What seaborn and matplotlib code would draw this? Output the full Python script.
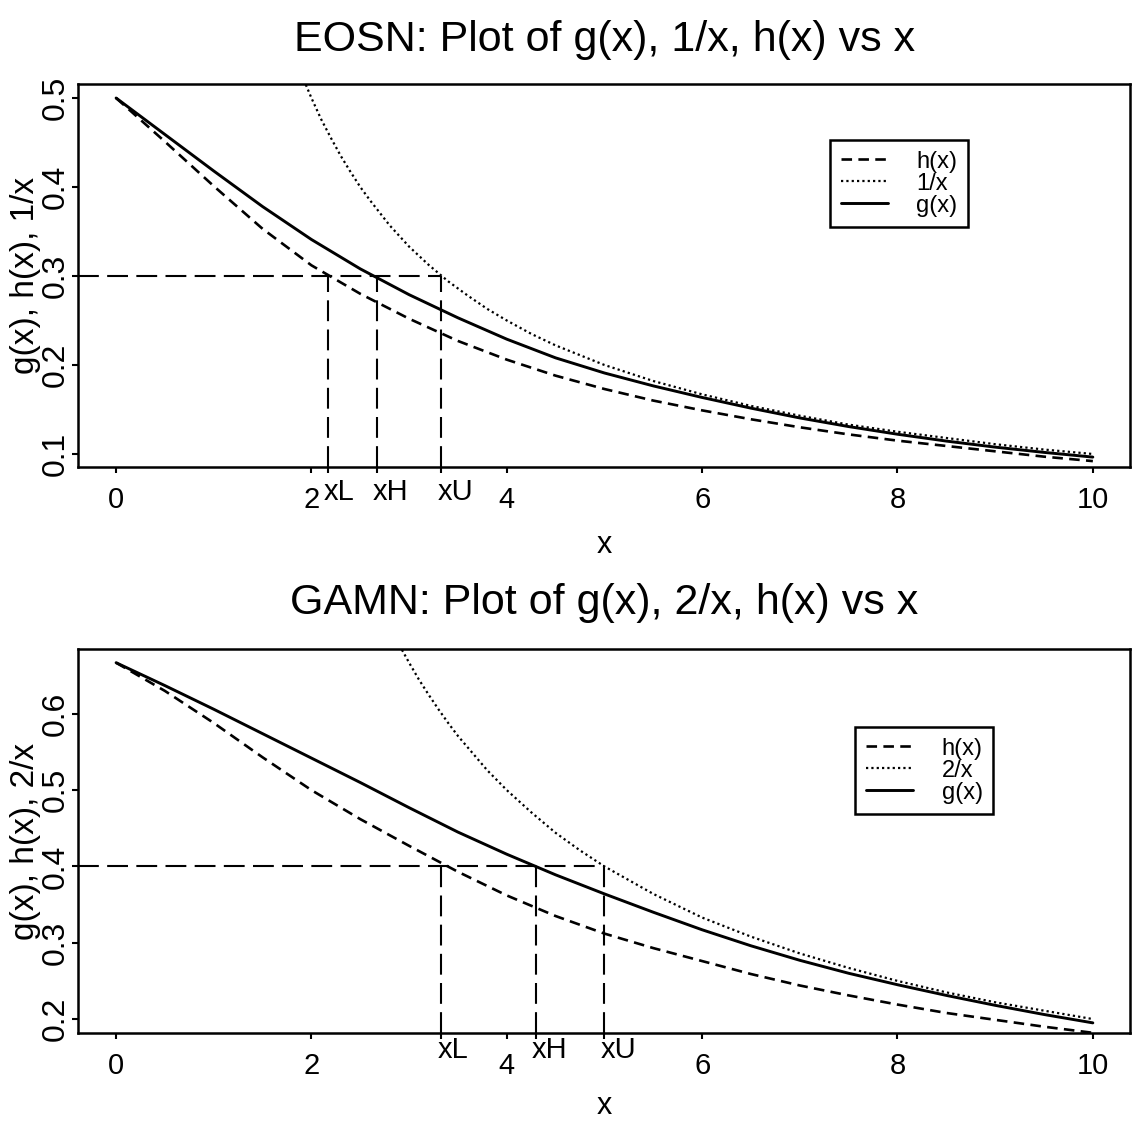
import matplotlib
matplotlib.use("Agg")
import matplotlib.pyplot as plt
import matplotlib.transforms as mtransforms
import seaborn as sns
import pandas as pd
from matplotlib import font_manager as fm
from matplotlib.font_manager import FontProperties

# ---------------- data ----------------
x_grid = [0.0, 0.5, 1.0, 1.5, 2.0, 2.5, 3.0, 3.5, 4.0, 4.5, 5.0,
          5.5, 6.0, 6.5, 7.0, 7.5, 8.0, 8.5, 9.0, 9.5, 10.0]

eosn_g = [0.500, 0.459, 0.418, 0.378, 0.341, 0.308, 0.279, 0.253, 0.229, 0.208, 0.191,
          0.1765, 0.1635, 0.1515, 0.1405, 0.1308, 0.1222, 0.1145, 0.1077, 0.1018, 0.0965]
eosn_h = [0.500, 0.451, 0.401, 0.353, 0.312, 0.280, 0.252, 0.227, 0.206, 0.188, 0.173,
          0.160, 0.149, 0.139, 0.130, 0.122, 0.115, 0.109, 0.103, 0.097, 0.092]
eosn_rx = [1.9, 2.0, 2.1, 2.2, 2.3, 2.4, 2.5, 2.6, 2.8, 3.0, 3.2, 3.4, 3.6, 3.8, 4.0,
           4.25, 4.5, 4.75, 5.0, 5.5, 6.0, 6.5, 7.0, 7.5, 8.0, 8.5, 9.0, 9.5, 10.0]
eosn_r = [0.526, 0.500, 0.476, 0.455, 0.435, 0.417, 0.400, 0.385, 0.357, 0.333, 0.3125,
          0.294, 0.278, 0.263, 0.250, 0.235, 0.222, 0.211, 0.200, 0.182, 0.167, 0.154,
          0.143, 0.133, 0.125, 0.118, 0.111, 0.105, 0.100]

gamn_g = [0.667, 0.637, 0.606, 0.574, 0.542, 0.510, 0.477, 0.445, 0.416, 0.389, 0.364,
          0.340, 0.317, 0.296, 0.277, 0.260, 0.245, 0.231, 0.218, 0.206, 0.195]
gamn_h = [0.667, 0.630, 0.588, 0.543, 0.500, 0.462, 0.427, 0.393, 0.362, 0.335, 0.312,
          0.293, 0.276, 0.259, 0.244, 0.231, 0.219, 0.208, 0.199, 0.190, 0.182]
gamn_rx = [2.9, 3.0, 3.1, 3.2, 3.3, 3.4, 3.5, 3.6, 3.8, 4.0, 4.25, 4.5, 4.75, 5.0,
           5.5, 6.0, 6.5, 7.0, 7.5, 8.0, 8.5, 9.0, 9.5, 10.0]
gamn_r = [0.690, 0.667, 0.645, 0.625, 0.606, 0.588, 0.571, 0.556, 0.526, 0.500, 0.471,
          0.444, 0.421, 0.400, 0.364, 0.333, 0.308, 0.286, 0.267, 0.250, 0.235, 0.222,
          0.211, 0.200]

eosn_cut = [2.17, 2.67, 3.33]
eosn_level = 0.3
gamn_cut = [3.33, 4.30, 5.00]
gamn_level = 0.4
cut_labels = ["xL", "xH", "xU"]

x_ticks = [0, 2, 4, 6, 8, 10]
eosn_yticks = [0.1, 0.2, 0.3, 0.4, 0.5]
gamn_yticks = [0.2, 0.3, 0.4, 0.5, 0.6]

eosn_title = "EOSN: Plot of g(x), 1/x, h(x) vs x"
gamn_title = "GAMN: Plot of g(x), 2/x, h(x) vs x"
eosn_ylabel = "g(x), h(x), 1/x"
gamn_ylabel = "g(x), h(x), 2/x"
eosn_legend = ["h(x)", "1/x", "g(x)"]
gamn_legend = ["h(x)", "2/x", "g(x)"]
x_label = "x"

# ---------------- style ----------------
sns.set_style("ticks")
available = {f.name for f in fm.fontManager.ttflist}
NARROW = "Liberation Sans Narrow" if "Liberation Sans Narrow" in available else "Liberation Sans"
REG = "Liberation Sans"
plt.rcParams["font.family"] = [REG, "DejaVu Sans"]
plt.rcParams["axes.linewidth"] = 1.8
plt.rcParams["axes.edgecolor"] = "black"
for key in ["text.color", "axes.labelcolor", "xtick.color", "ytick.color"]:
    plt.rcParams[key] = "black"

fig = plt.figure(figsize=(11.32, 11.22), dpi=100)
ax1 = fig.add_axes([0.0689, 0.5838, 0.9293, 0.3413])
ax2 = fig.add_axes([0.0689, 0.0793, 0.9293, 0.3423])

XLIM = (-0.39, 10.38)


def panel(ax, g, h, rx, r, cut, level, ylim, yticks, title, ylabel, leg_labels,
          leg_anchor, title_y, minor_pad, xlabel_y):
    d = pd.DataFrame({"x": x_grid, "g": g, "h": h})
    dr = pd.DataFrame({"x": rx, "r": r})
    sns.lineplot(data=d, x="x", y="h", ax=ax, color="black", lw=1.9,
                 linestyle=(0, (4, 2.4)), errorbar=None, legend=False)
    sns.lineplot(data=dr, x="x", y="r", ax=ax, color="black", lw=1.6,
                 linestyle=(0, (1, 1.4)), errorbar=None, legend=False)
    sns.lineplot(data=d, x="x", y="g", ax=ax, color="black", lw=2.1,
                 errorbar=None, legend=False)
    lines = list(ax.get_lines())

    ax.set_xlim(*XLIM)
    ax.set_ylim(*ylim)
    # reference lines
    ax.hlines(level, XLIM[0], cut[-1], colors="black", lw=1.5,
              linestyles=(0, (10, 4)))
    ax.vlines(cut, ylim[0], level, colors="black", lw=1.5,
              linestyles=(0, (10, 4)))

    ax.set_xticks(x_ticks)
    ax.set_xticklabels([str(t) for t in x_ticks], fontfamily=NARROW, fontsize=21)
    ax.set_xticks(cut, minor=True)
    ax.set_xticklabels(cut_labels, minor=True, fontfamily=NARROW, fontsize=21)
    ax.set_yticks(yticks)
    ax.set_yticklabels([f"{t:.1f}" for t in yticks], fontsize=23)
    ax.tick_params(axis="x", which="major", length=4, width=1.5, pad=10, direction="out")
    ax.tick_params(axis="x", which="minor", length=4, width=1.5, pad=minor_pad, direction="out")
    ax.tick_params(axis="y", length=4, width=1.5, pad=1, labelrotation=90, direction="out")
    for t in ax.get_yticklabels():
        t.set_va("center")
    shift = mtransforms.ScaledTranslation(-4 / 100, 0, fig.dpi_scale_trans)
    for t in ax.get_xticklabels(minor=True):
        t.set_ha("left")
        t.set_transform(t.get_transform() + shift)

    ax.set_xlabel(x_label, fontfamily=NARROW, fontsize=22)
    ax.xaxis.set_label_coords(0.5, xlabel_y)
    ax.set_ylabel(ylabel, fontsize=24)
    ax.yaxis.set_label_coords(-0.035, 0.5)

    fig.text(0.534, title_y, title, ha="center", va="center",
             fontfamily=NARROW, fontsize=31)

    leg = ax.legend(handles=lines, labels=leg_labels, loc="upper left",
                    bbox_to_anchor=leg_anchor, frameon=True, fancybox=False,
                    edgecolor="black", framealpha=1, borderaxespad=0,
                    prop=FontProperties(family=NARROW, size=17),
                    labelspacing=0.0, handlelength=2.0, handletextpad=1.2,
                    borderpad=0.45)
    leg.get_frame().set_linewidth(1.8)
    for s in ax.spines.values():
        s.set_visible(True)


panel(ax1, eosn_g, eosn_h, eosn_rx, eosn_r, eosn_cut, eosn_level,
      (0.0854, 0.5157), eosn_yticks, eosn_title, eosn_ylabel, eosn_legend,
      (0.715, 0.854), 1 - 40 / 1122, 4, -0.165)
panel(ax2, gamn_g, gamn_h, gamn_rx, gamn_r, gamn_cut, gamn_level,
      (0.1817, 0.685), gamn_yticks, gamn_title, gamn_ylabel, gamn_legend,
      (0.739, 0.797), 1 - 603 / 1122, -2, -0.15)

fig.savefig("out.png", dpi=100)
